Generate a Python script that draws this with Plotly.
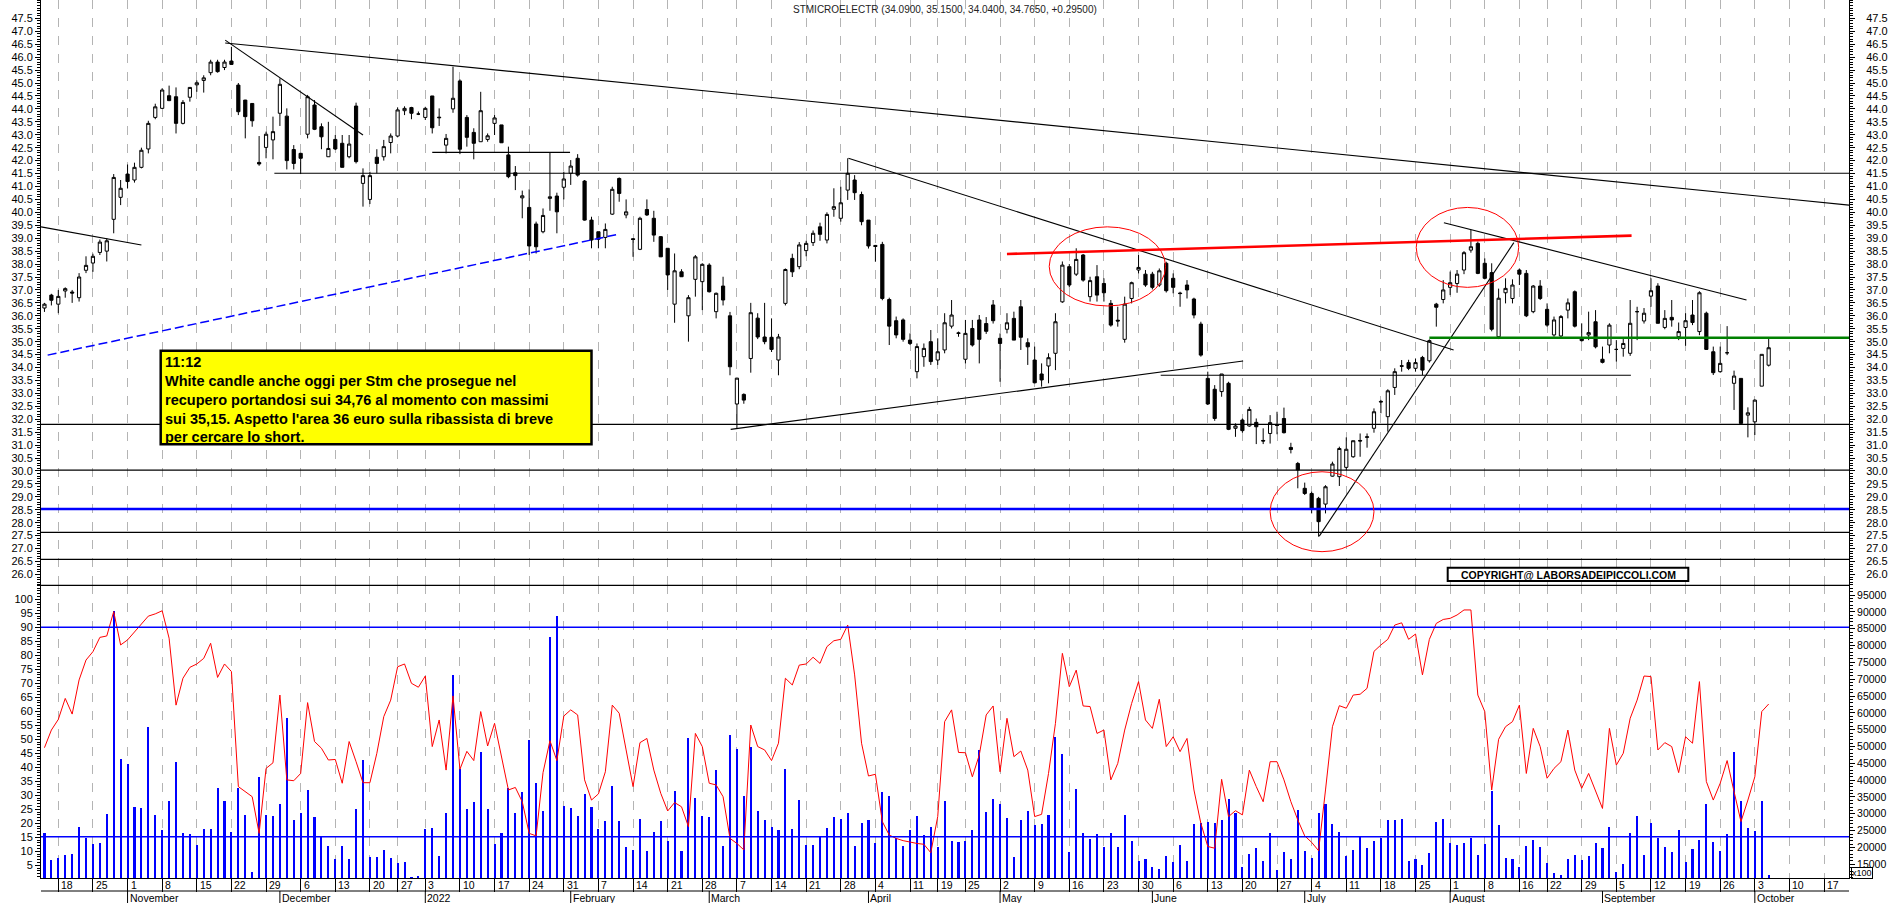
import plotly.graph_objects as go
import pandas as pd

# ---------------- trading calendar (Borsa Italiana) ----------------
HOLIDAYS = ["2021-12-24", "2021-12-31", "2022-04-15", "2022-04-18", "2022-08-15"]
calendar = [d for d in pd.bdate_range("2021-10-14", "2022-10-21")
            if d.strftime("%Y-%m-%d") not in HOLIDAYS]

# ---------------- daily OHLC (STMicroelectronics) ----------------
open_ = [
    36.30, 36.80, 36.45, 36.96, 36.92, 36.70, 37.76, 38.04, 38.45, 38.50,
    39.73, 40.58, 41.48, 41.25, 41.74, 42.45, 43.67, 44.02, 44.51, 44.47,
    43.44, 44.45, 44.93, 45.10, 45.40, 45.81, 45.60, 45.85, 44.92, 44.34,
    44.21, 41.93, 42.51, 42.80, 43.83, 43.72, 42.43, 42.28, 43.02, 44.15,
    43.31, 42.15, 42.82, 42.67, 42.15, 44.11, 41.12, 40.50, 42.13, 42.15,
    42.70, 42.95, 43.93, 44.05, 43.80, 43.67, 44.50, 43.68, 42.60, 44.00,
    45.08, 43.67, 43.09, 42.73, 42.82, 43.44, 43.38, 42.22, 41.53, 40.56,
    40.19, 39.55, 39.25, 40.54, 40.63, 40.97, 41.51, 42.09, 41.21, 39.70,
    39.25, 39.03, 39.93, 41.31, 39.90, 38.98, 38.57, 40.11, 39.77, 39.06,
    38.61, 36.45, 37.70, 36.00, 37.41, 37.32, 37.96, 36.16, 37.15, 36.00,
    32.59, 32.96, 34.35, 35.91, 35.18, 35.17, 34.29, 36.48, 38.22, 37.90,
    38.52, 38.83, 39.44, 38.93, 40.12, 39.77, 40.86, 41.25, 40.69, 39.70,
    38.72, 38.76, 36.63, 35.81, 35.84, 35.06, 33.84, 34.42, 35.00, 34.29,
    34.68, 35.60, 35.34, 34.32, 35.51, 35.84, 35.70, 36.42, 35.13, 35.48,
    35.90, 36.35, 34.96, 34.29, 33.75, 34.06, 34.55, 36.54, 37.90, 37.61,
    38.35, 36.74, 37.51, 37.25, 36.48, 35.83, 35.09, 36.67, 37.77, 37.61,
    37.61, 37.19, 38.03, 37.45, 36.88, 37.19, 36.65, 35.68, 33.58, 33.16,
    33.07, 33.39, 31.65, 31.97, 31.74, 31.88, 31.18, 31.45, 31.80, 32.03,
    30.91, 30.29, 29.33, 29.13, 28.94, 28.72, 29.80, 29.78, 30.14, 30.55,
    31.18, 31.30, 31.65, 32.69, 32.10, 33.23, 34.07, 34.19, 33.97, 34.39,
    34.26, 36.45, 36.63, 37.10, 37.25, 37.77, 38.54, 38.80, 38.03, 37.67,
    35.19, 36.89, 36.67, 37.77, 37.64, 36.16, 37.15, 36.25, 35.26, 35.22,
    36.22, 36.93, 35.13, 35.26, 35.77, 34.32, 34.87, 34.70, 34.74, 34.55,
    36.16, 35.80, 36.76, 37.15, 35.55, 35.94, 35.19, 35.55, 36.03, 35.39,
    36.10, 34.61, 33.84, 34.57, 33.39, 33.58, 32.16, 31.90, 33.28, 34.09,
]
high = [
    36.50, 36.85, 37.00, 37.10, 37.00, 37.65, 38.30, 38.40, 38.95, 39.00,
    41.48, 41.25, 41.85, 41.92, 42.50, 43.54, 44.20, 44.80, 44.90, 44.83,
    44.34, 44.83, 45.10, 45.30, 45.90, 45.90, 45.90, 46.40, 45.00, 44.35,
    44.21, 42.95, 43.12, 43.70, 45.18, 44.02, 42.60, 42.30, 44.54, 44.34,
    43.44, 43.50, 42.99, 42.99, 42.99, 44.24, 41.70, 41.57, 42.44, 42.80,
    43.05, 44.06, 44.10, 44.08, 43.90, 44.08, 44.50, 44.02, 43.03, 45.63,
    45.14, 43.76, 43.25, 44.66, 43.05, 43.76, 43.38, 42.54, 41.79, 40.84,
    40.89, 39.64, 40.15, 42.31, 40.76, 41.57, 42.02, 42.25, 41.25, 39.83,
    39.25, 39.57, 40.99, 41.35, 40.50, 39.00, 39.83, 40.50, 40.06, 39.08,
    38.61, 38.41, 37.80, 36.80, 38.35, 38.03, 38.03, 36.90, 37.51, 36.15,
    33.60, 33.00, 36.50, 36.10, 36.50, 35.90, 35.30, 37.83, 38.40, 38.85,
    38.90, 39.30, 39.60, 40.00, 40.93, 40.99, 42.09, 41.44, 40.80, 39.70,
    38.74, 38.86, 36.70, 35.97, 35.90, 35.32, 34.93, 34.93, 35.45, 35.13,
    36.10, 36.61, 35.39, 35.84, 35.84, 36.03, 35.95, 36.61, 35.32, 36.10,
    36.16, 36.61, 35.13, 34.81, 34.16, 34.55, 36.10, 38.10, 38.00, 38.61,
    38.39, 37.51, 37.96, 37.45, 36.61, 36.35, 36.74, 37.32, 38.35, 37.77,
    37.70, 37.83, 38.09, 37.64, 36.93, 37.38, 36.70, 35.77, 33.84, 33.32,
    33.75, 33.45, 31.84, 32.03, 32.48, 32.03, 31.65, 32.16, 32.29, 32.45,
    31.09, 30.35, 29.55, 29.20, 29.00, 29.45, 30.36, 30.94, 31.30, 31.17,
    31.45, 31.45, 32.42, 32.75, 33.16, 33.97, 34.29, 34.30, 34.35, 34.45,
    35.09, 36.50, 37.38, 37.71, 37.77, 38.50, 39.32, 38.87, 38.22, 38.03,
    37.05, 37.45, 37.41, 37.83, 37.77, 37.19, 37.38, 36.48, 35.97, 36.03,
    36.67, 36.98, 35.71, 36.16, 36.22, 34.81, 35.71, 35.06, 35.13, 36.61,
    36.35, 36.30, 37.45, 37.26, 36.22, 36.61, 35.74, 36.10, 36.61, 36.95,
    36.16, 34.81, 34.81, 35.60, 33.88, 33.58, 32.46, 32.77, 34.51, 35.15,
]
low = [
    36.15, 36.40, 36.10, 36.70, 36.50, 36.55, 37.65, 37.70, 38.35, 38.10,
    39.19, 40.28, 40.93, 41.15, 41.70, 42.28, 43.60, 44.00, 44.30, 43.05,
    43.40, 44.28, 44.66, 44.63, 45.30, 45.40, 45.50, 45.70, 43.76, 42.86,
    43.31, 41.80, 42.09, 42.05, 43.34, 41.66, 41.66, 41.48, 42.86, 43.18,
    42.44, 42.15, 42.41, 41.74, 42.09, 41.89, 40.22, 40.32, 41.51, 42.00,
    42.28, 42.90, 43.76, 43.60, 43.76, 43.57, 43.05, 43.34, 42.28, 43.85,
    42.25, 42.54, 42.05, 42.73, 42.73, 42.99, 42.69, 41.32, 40.86, 39.77,
    38.35, 38.41, 39.19, 40.06, 39.19, 40.50, 41.06, 41.38, 39.68, 38.61,
    38.61, 38.61, 39.90, 40.41, 39.77, 38.28, 38.54, 39.86, 38.86, 38.28,
    37.00, 35.73, 37.50, 35.00, 36.74, 36.22, 36.90, 35.90, 36.40, 33.70,
    31.66, 32.60, 33.80, 35.10, 34.90, 34.60, 33.70, 36.40, 37.50, 37.80,
    38.30, 38.70, 38.90, 38.80, 39.83, 39.64, 40.48, 40.48, 39.50, 38.60,
    38.09, 36.60, 34.87, 35.13, 35.00, 34.87, 33.58, 34.03, 34.10, 34.10,
    34.55, 35.51, 35.19, 34.16, 34.81, 34.16, 35.30, 35.70, 33.45, 35.32,
    35.06, 34.68, 34.10, 33.39, 33.26, 33.39, 33.90, 36.50, 37.10, 37.54,
    37.32, 36.55, 36.55, 36.55, 35.58, 35.58, 34.96, 36.48, 37.64, 37.12,
    37.02, 37.12, 36.90, 36.87, 36.35, 36.67, 35.90, 34.42, 32.55, 31.94,
    32.87, 31.58, 31.32, 31.48, 31.71, 31.04, 31.04, 31.06, 31.42, 31.45,
    30.68, 29.33, 29.07, 28.36, 27.46, 28.36, 29.78, 29.42, 30.03, 30.51,
    30.55, 30.90, 31.48, 32.23, 31.52, 32.94, 33.84, 33.90, 33.84, 33.71,
    34.19, 35.58, 36.48, 36.80, 36.89, 37.61, 38.44, 37.61, 37.41, 35.40,
    35.10, 36.48, 36.48, 37.19, 35.95, 36.10, 36.61, 35.58, 35.19, 35.13,
    35.90, 35.55, 35.00, 35.06, 34.74, 34.16, 34.55, 34.23, 34.42, 34.45,
    35.06, 35.70, 36.35, 35.71, 35.48, 35.58, 35.06, 34.84, 35.64, 35.25,
    34.68, 33.71, 33.80, 34.48, 32.36, 31.84, 31.30, 31.39, 33.28, 34.04,
]
close = [
    36.45, 36.60, 36.75, 37.05, 36.88, 37.50, 37.95, 38.30, 38.85, 38.90,
    41.35, 40.93, 41.19, 41.74, 42.40, 43.44, 44.08, 44.73, 44.32, 43.44,
    44.25, 44.83, 45.01, 45.20, 45.81, 45.44, 45.81, 45.72, 43.89, 43.70,
    43.54, 41.87, 43.02, 43.12, 44.95, 42.00, 41.89, 42.09, 44.47, 43.21,
    42.92, 42.47, 42.45, 41.74, 42.64, 41.96, 41.42, 41.42, 41.89, 42.54,
    42.95, 43.96, 44.02, 43.83, 43.80, 44.02, 43.27, 43.66, 42.86, 44.41,
    42.44, 42.90, 42.67, 43.93, 42.96, 43.65, 42.69, 41.38, 41.42, 40.64,
    38.70, 38.67, 39.88, 40.60, 40.02, 41.29, 41.79, 41.44, 39.70, 38.93,
    38.96, 39.34, 40.89, 40.73, 40.02, 38.95, 39.77, 39.90, 39.12, 38.28,
    37.58, 37.74, 37.51, 36.70, 38.28, 37.99, 36.93, 36.87, 36.61, 34.03,
    33.59, 32.74, 36.12, 35.18, 35.00, 34.70, 35.18, 37.79, 37.70, 38.74,
    38.80, 39.19, 39.15, 39.92, 40.22, 40.37, 41.51, 40.76, 39.64, 38.70,
    38.68, 36.67, 35.60, 35.26, 35.09, 34.93, 34.81, 34.74, 34.23, 34.61,
    35.73, 36.03, 35.32, 35.32, 34.87, 35.09, 35.40, 35.81, 34.93, 35.73,
    35.06, 35.17, 34.80, 33.41, 33.52, 34.38, 35.77, 37.96, 37.19, 38.18,
    37.38, 37.36, 36.80, 36.89, 35.64, 35.80, 36.45, 37.28, 37.87, 37.19,
    37.10, 37.74, 36.97, 37.10, 36.86, 37.00, 36.03, 34.48, 32.59, 32.03,
    33.75, 31.61, 31.74, 31.56, 32.38, 31.71, 31.16, 31.87, 31.76, 31.48,
    30.83, 30.04, 29.13, 28.55, 28.04, 29.39, 30.27, 30.87, 30.84, 31.17,
    31.16, 31.32, 32.29, 32.67, 33.10, 33.84, 34.05, 33.97, 34.19, 33.90,
    35.04, 36.33, 37.00, 37.28, 37.61, 38.44, 38.67, 37.64, 37.45, 35.48,
    36.68, 37.06, 37.19, 37.61, 36.00, 37.15, 36.67, 35.64, 35.84, 35.97,
    36.50, 35.60, 35.04, 35.35, 34.80, 34.20, 35.64, 34.70, 34.93, 35.71,
    36.16, 36.10, 36.97, 35.71, 35.90, 35.84, 35.39, 35.81, 35.74, 36.89,
    34.70, 33.80, 34.16, 34.57, 33.67, 31.84, 32.25, 32.74, 34.51, 34.765,
]

# ---------------- volume (x100) and oscillator ----------------
volume = [
    24200, 16300, 16800, 17800, 18000, 26000, 22700, 21000, 21400, 29900,
    90400, 46200, 44700, 32100, 31600, 55900, 29500, 25200, 33700, 45300,
    24400, 24100, 20600, 25500, 25400, 37600, 33700, 24600, 37700, 29650,
    12800, 40800, 29650, 29450, 32820, 58370, 28260, 30340, 36980, 29155,
    23213, 20340, 16676, 20440, 16676, 31433, 46000, 17270, 17270, 19250,
    16775, 15488, 15785, 11130, 11625, 25390, 25886, 17370, 30245, 71243,
    43216, 31332, 33510, 48268, 31433, 20936, 24200, 37770, 30145, 36580,
    51930, 39255, 30838, 82433, 88770, 32325, 31630, 29255, 35890, 32126,
    25490, 27770, 38265, 27770, 20140, 19250, 28460, 19050, 24600, 27870,
    21925, 36680, 18955, 52525, 34700, 29450, 29055, 43020, 20440, 53420,
    49260, 35295, 49755, 30840, 28165, 26185, 25195, 43315, 25490, 34110,
    20735, 20735, 23210, 25790, 28955, 28360, 30240, 20440, 27175, 28165,
    21230, 36480, 35295, 22717, 20540, 25195, 29355, 23710, 25985, 20045,
    33810, 22025, 21530, 22025, 25195, 48960, 30445, 34405, 32820, 28760,
    17270, 28165, 30840, 26580, 26975, 29650, 52920, 47770, 18755, 37375,
    24400, 22620, 24005, 20240, 24400, 20045, 29550, 22025, 15985, 16480,
    14100, 13510, 17470, 15785, 20735, 15985, 26975, 27175, 27670, 27175,
    28165, 34305, 30145, 14300, 18065, 19745, 16080, 24200, 13310, 18660,
    16580, 31135, 18855, 16775, 30340, 32920, 26975, 24600, 17470, 19250,
    23410, 19850, 22025, 22717, 28165, 28165, 28560, 15985, 16580, 14800,
    18460, 27470, 28360, 21430, 20735, 21430, 22915, 17765, 21035, 36880,
    26680, 16775, 16480, 14100, 20440, 22220, 20140, 15490, 12320, 11825,
    16480, 17765, 16280, 17470, 21430, 19745, 25985, 12815, 14995, 24200,
    29355, 17765, 27175, 22717, 20240, 18560, 25195, 15785, 19450, 22220,
    32920, 21530, 18955, 24005, 48270, 33910, 25690, 24995, 33910, 11825,
]
oscillator = [
    47.0, 53.3, 57.1, 64.6, 59.0, 71.2, 78.3, 81.3, 86.4, 86.9,
    95.6, 83.7, 85.5, 88.4, 91.4, 94.0, 94.8, 95.9, 86.1, 62.2,
    71.8, 75.7, 76.9, 78.9, 84.3, 72.1, 76.9, 74.2, 33.1, 31.3,
    29.5, 16.4, 39.6, 41.6, 65.8, 35.5, 35.2, 37.8, 63.1, 49.2,
    46.8, 42.6, 42.8, 34.3, 49.2, 42.0, 34.5, 34.5, 45.0, 58.1,
    64.0, 75.9, 76.9, 70.0, 68.6, 72.6, 47.4, 56.9, 39.0, 65.5,
    39.3, 45.7, 42.4, 59.9, 47.6, 55.7, 43.8, 31.9, 32.8, 27.7,
    16.4, 15.5, 38.1, 49.5, 42.4, 58.3, 60.5, 58.7, 35.5, 28.3,
    30.5, 38.4, 62.2, 59.3, 46.2, 33.1, 48.8, 50.3, 39.0, 30.7,
    24.4, 27.4, 25.9, 18.8, 52.1, 47.4, 34.3, 33.7, 29.5, 14.6,
    12.8, 10.5, 55.1, 47.4, 46.2, 42.4, 48.6, 71.8, 69.4, 76.5,
    76.9, 79.3, 77.1, 83.1, 85.2, 85.7, 90.8, 73.0, 48.6, 36.9,
    37.5, 20.6, 15.8, 14.6, 13.8, 13.2, 12.8, 12.5, 9.5, 22.4,
    56.3, 60.5, 45.3, 45.2, 36.6, 44.4, 58.7, 61.9, 38.4, 57.5,
    43.8, 45.8, 39.0, 22.4, 23.2, 37.8, 55.7, 80.7, 68.8, 74.7,
    61.9, 61.7, 52.1, 53.3, 35.5, 41.4, 53.3, 62.8, 70.6, 56.9,
    53.9, 64.3, 47.4, 50.9, 45.6, 50.3, 31.9, 20.0, 11.7, 11.1,
    35.7, 22.4, 24.5, 23.0, 39.0, 33.1, 27.7, 42.0, 42.0, 35.5,
    27.7, 21.2, 15.5, 13.2, 10.2, 31.9, 54.5, 62.0, 61.1, 65.8,
    66.1, 68.2, 81.4, 83.7, 85.7, 90.8, 91.6, 85.7, 87.6, 73.0,
    85.7, 91.4, 92.8, 93.2, 94.4, 96.2, 96.2, 65.8, 59.9, 31.9,
    50.0, 54.5, 56.3, 62.2, 37.8, 53.9, 47.4, 36.1, 39.6, 42.0,
    53.3, 39.0, 32.5, 37.8, 31.3, 25.3, 53.9, 40.8, 45.0, 57.5,
    64.0, 72.6, 72.4, 46.2, 48.8, 47.4, 38.1, 50.9, 48.6, 70.6,
    34.9, 28.3, 34.3, 42.4, 31.3, 20.6, 28.3, 36.6, 59.9, 62.6,
]
osc_levels = [90.0, 15.2]

# ---------------- analyst drawings (bar index, price) ----------------
trend_lines = [
    ((26.1, 46.55), (260.6, 40.28)),
    ((26.1, 46.66), (46.0, 42.99)),
    ((-0.5, 39.44), (14.0, 38.74)),
    ((33.2, 41.51), (260.6, 41.51)),
    ((56.0, 42.32), (75.9, 42.32)),
    ((99.1, 31.61), (173.1, 34.25)),
    ((161.2, 33.70), (229.1, 33.70)),
    ((116.1, 42.09), (203.5, 34.68)),
    ((202.1, 39.60), (245.8, 36.61)),
    ((184.1, 27.48), (212.2, 38.83)),
]
blue_dashed_line = ((0.46, 34.48), (83.0, 39.16))
red_resistance = ((139.0, 38.39), (229.2, 39.10))
green_level = ((200.0, 35.15), (260.6, 35.15))
support_levels = [31.80, 30.03, 27.63, 26.58]
blue_level = 28.53
circles = [((145.1, 36.38), (161.9, 39.44)),
           ((198.1, 37.10), (212.9, 40.19)),
           ((177.0, 26.88), (192.0, 29.97))]

title_text = "STMICROELECTR (34.0900, 35.1500, 34.0400, 34.7650, +0.29500)"
note_text = ("<b>11:12<br>White candle anche oggi per Stm che prosegue nel<br>"
             "recupero portandosi sui 34,76 al momento con massimi<br>"
             "sui 35,15. Aspetto l'area 36 euro sulla ribassista di breve<br>"
             "per cercare lo short.</b>")
copyright_text = "<b>COPYRIGHT@ LABORSADEIPICCOLI.COM</b>"

price_ticks = [26.0 + 0.5 * k for k in range(44)]
osc_ticks = list(range(5, 101, 5))
vol_ticks = list(range(15000, 95001, 5000))

# ---------------- layout geometry (pixels) ----------------
W, H = 1890, 903
ML, MR, MT, MB = 41, 41, 0, 25
PW, PH = W - ML - MR, H - MT - MB
SPLIT = 1 - 585.3 / PH          # boundary between price and lower panel


def px(xp):
    return (xp - ML) / PW


def py(yp):
    return 1 - (yp - MT) / PH


N = len(close)
xs = list(range(N))
FONT = "Arial, Liberation Sans, sans-serif"

# week starts and month starts from the trading calendar
week_idx, week_lbl, month_idx, month_lbl = [], [], [], []
for i, d in enumerate(calendar):
    if i == 0:
        continue
    p = calendar[i - 1]
    if d.isocalendar()[:2] != p.isocalendar()[:2]:
        week_idx.append(i)
        week_lbl.append(str(d.day))
    if d.month != p.month:
        month_idx.append(i)
        month_lbl.append(str(d.year) if d.month == 1 else d.strftime("%B"))

fig = go.Figure()
fig.add_trace(go.Candlestick(
    x=xs, open=open_, high=high, low=low, close=close, xaxis="x", yaxis="y",
    increasing=dict(line=dict(color="black", width=1), fillcolor="white"),
    decreasing=dict(line=dict(color="black", width=1), fillcolor="black"),
    whiskerwidth=0, showlegend=False, hoverinfo="skip"))
fig.add_trace(go.Scatter(x=[xs[0]], y=[close[0]], xaxis="x", yaxis="y3", mode="markers",
                         marker=dict(opacity=0), showlegend=False, hoverinfo="skip"))
fig.add_trace(go.Bar(x=xs, y=volume, xaxis="x", yaxis="y2", width=0.3,
                     marker=dict(color="#0000ff", line=dict(width=0)),
                     showlegend=False, hoverinfo="skip"))
fig.add_trace(go.Scatter(x=xs, y=oscillator, xaxis="x", yaxis="y4", mode="lines",
                         line=dict(color="#ff0000", width=1),
                         showlegend=False, hoverinfo="skip"))

shapes = []
shapes.append(dict(type="line", xref="paper", yref="paper", x0=0, x1=1, y0=SPLIT, y1=SPLIT,
                   line=dict(color="black", width=1.3), layer="above"))
for lv in support_levels:
    shapes.append(dict(type="line", xref="paper", yref="y", x0=0, x1=1, y0=lv, y1=lv,
                       line=dict(color="black", width=1.3), layer="above"))
shapes.append(dict(type="line", xref="paper", yref="y", x0=0, x1=1, y0=blue_level, y1=blue_level,
                   line=dict(color="#0000ff", width=2.6), layer="above"))
for (a, b) in trend_lines:
    shapes.append(dict(type="line", xref="x", yref="y", x0=a[0], y0=a[1], x1=b[0], y1=b[1],
                       line=dict(color="black", width=1.1), layer="above"))
a, b = blue_dashed_line
shapes.append(dict(type="line", xref="x", yref="y", x0=a[0], y0=a[1], x1=b[0], y1=b[1],
                   line=dict(color="#0000ff", width=1.5, dash="9px,4px"), layer="above"))
a, b = red_resistance
shapes.append(dict(type="line", xref="x", yref="y", x0=a[0], y0=a[1], x1=b[0], y1=b[1],
                   line=dict(color="#ff0000", width=2.6), layer="above"))
a, b = green_level
shapes.append(dict(type="line", xref="x", yref="y", x0=a[0], y0=a[1], x1=b[0], y1=b[1],
                   line=dict(color="#008000", width=2.6), layer="above"))
for (a, b) in circles:
    shapes.append(dict(type="circle", xref="x", yref="y", x0=a[0], y0=a[1], x1=b[0], y1=b[1],
                       line=dict(color="#ff0000", width=1), layer="above"))
for lv in osc_levels:
    shapes.append(dict(type="line", xref="paper", yref="y4", x0=0, x1=1, y0=lv, y1=lv,
                       line=dict(color="#0000ff", width=1.5), layer="above"))
shapes.append(dict(type="line", xref="paper", yref="paper", x0=0, x1=1, y0=py(891), y1=py(891),
                   line=dict(color="black", width=1)))
for mi in month_idx:
    shapes.append(dict(type="line", xref="x", yref="paper", x0=mi, x1=mi, y0=py(891), y1=py(903),
                       line=dict(color="black", width=1)))
shapes.append(dict(type="rect", xref="paper", yref="paper", x0=px(160.7), x1=px(591.5),
                   y0=py(444.3), y1=py(350.7), fillcolor="#ffff00",
                   line=dict(color="black", width=2.5), layer="above"))
shapes.append(dict(type="rect", xref="paper", yref="paper", x0=px(1447.7), x1=px(1688.3),
                   y0=py(581), y1=py(567.7), fillcolor="white",
                   line=dict(color="black", width=2), layer="above"))

ann = []
ann.append(dict(text=title_text, xref="paper", yref="paper", x=0.5, y=py(9), xanchor="center",
                yanchor="middle", showarrow=False, font=dict(family=FONT, size=10, color="#222")))
ann.append(dict(text=note_text, xref="paper", yref="paper", x=px(162.5), y=py(351.5),
                xanchor="left", yanchor="top", align="left", showarrow=False,
                font=dict(family=FONT, size=14.5, color="black")))
ann.append(dict(text=copyright_text, xref="paper", yref="paper", x=px(1568), y=py(574.5),
                xanchor="center", yanchor="middle", showarrow=False,
                font=dict(family=FONT, size=10.5, color="black")))
ann.append(dict(text="x100", xref="paper", yref="paper", x=px(1851), y=py(873),
                xanchor="left", yanchor="middle", showarrow=False, bordercolor="black",
                borderwidth=1, borderpad=0, font=dict(family=FONT, size=9, color="black")))
for wi, wl in zip(week_idx, week_lbl):
    ann.append(dict(text=wl, xref="x", yref="paper", x=wi, y=py(885), xanchor="left",
                    yanchor="middle", xshift=1, showarrow=False,
                    font=dict(family=FONT, size=10.5, color="black")))
for mi, ml in zip(month_idx, month_lbl):
    ann.append(dict(text=ml, xref="x", yref="paper", x=mi, y=py(897.5), xanchor="left",
                    yanchor="middle", xshift=0, showarrow=False,
                    font=dict(family=FONT, size=10.5, color="black")))

tickfont = dict(family=FONT, size=11, color="black")
common_y = dict(ticks="outside", ticklen=5, tickcolor="black", showgrid=False, zeroline=False,
                showline=True, linecolor="black", linewidth=1, automargin=False)

fig.update_layout(
    template="none",
    width=W, height=H, margin=dict(l=ML, r=MR, t=MT, b=MB, autoexpand=False),
    paper_bgcolor="white", plot_bgcolor="white", showlegend=False, boxgap=0.34,
    bargap=0, shapes=shapes, annotations=ann,
    xaxis=dict(domain=[0, 1], anchor="y2", range=[-0.5, 260.6], tickmode="array",
               tickvals=week_idx, ticks="outside", ticklen=13, tickcolor="black",
               showticklabels=False, showgrid=True, gridcolor="#b4b4b4", griddash="dash",
               gridwidth=1, showline=True, linecolor="black", linewidth=1, zeroline=False,
               automargin=False, rangeslider=dict(visible=False)),
    yaxis=dict(domain=[SPLIT, 1], anchor="x", side="left", range=[25.58, 48.21],
               tickmode="array", tickvals=price_ticks, ticktext=[f"{v:.1f}" for v in price_ticks],
               tickfont=tickfont,
               minor=dict(tickmode="linear", tick0=0, dtick=0.1, ticks="outside", ticklen=3,
                          tickcolor="black"), **common_y),
    yaxis3=dict(overlaying="y", anchor="x", side="right", range=[25.58, 48.21],
                tickmode="array", tickvals=price_ticks, ticktext=[f"{v:.1f}" for v in price_ticks],
                tickfont=tickfont, ticklabelstandoff=9,
                minor=dict(tickmode="linear", tick0=0, dtick=0.1, ticks="outside", ticklen=3,
                           tickcolor="black"), **common_y),
    yaxis2=dict(domain=[0, SPLIT], anchor="x", side="right", range=[10930, 97890],
                tickmode="array", tickvals=vol_ticks, ticktext=[str(v) for v in vol_ticks],
                tickfont=dict(family=FONT, size=10.5, color="black"), ticklabelstandoff=0,
                minor=dict(tickmode="linear", tick0=0, dtick=1000, ticks="outside", ticklen=3,
                           tickcolor="black"), **common_y),
    yaxis4=dict(overlaying="y2", anchor="x", side="left", range=[0.46, 105.0],
                tickmode="array", tickvals=osc_ticks, ticktext=[str(v) for v in osc_ticks],
                tickfont=tickfont,
                minor=dict(tickmode="linear", tick0=0, dtick=1, ticks="outside", ticklen=3,
                           tickcolor="black"), **common_y),
)

fig.write_html("out.html", config={"displayModeBar": False, "staticPlot": True},
               post_script="document.body.style.margin='0';document.body.style.overflow='hidden';")
